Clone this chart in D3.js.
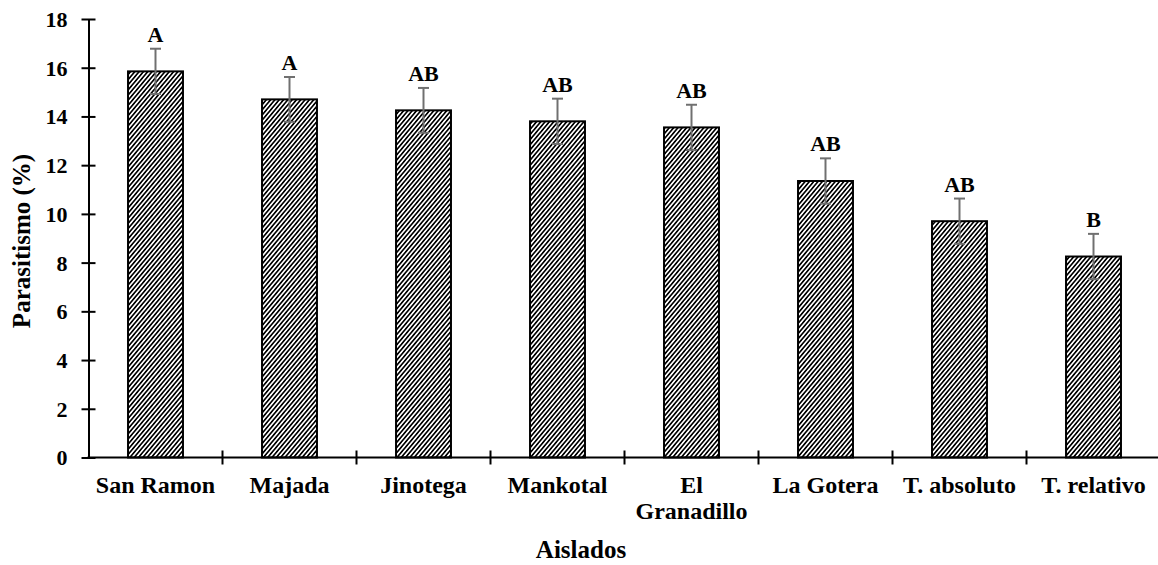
<!DOCTYPE html>
<html>
<head>
<meta charset="utf-8">
<script src="https://cdn.jsdelivr.net/npm/d3@7"></script>
<style>
  html, body { margin: 0; padding: 0; background: #fff; }
  svg { display: block; }
  svg text { font-family: "Liberation Serif", "Times New Roman", Times, serif; font-weight: bold; fill: #000; }
</style>
</head>
<body>
<svg id="chart" width="1158" height="565"></svg>
<script>
// Parasitism by isolate: mean, standard error and significance group
const categories = [["San Ramon"], ["Majada"], ["Jinotega"], ["Mankotal"], ["El", "Granadillo"], ["La Gotera"], ["T. absoluto"], ["T. relativo"]];
const means = [15.85, 14.7, 14.25, 13.8, 13.55, 11.35, 9.7, 8.25];
const errors = [0.93, 0.92, 0.92, 0.93, 0.93, 0.93, 0.93, 0.93];
const groups = ["A", "A", "AB", "AB", "AB", "AB", "AB", "B"];
const yTicks = [0, 2, 4, 6, 8, 10, 12, 14, 16, 18];

const FONT = '"Liberation Serif", "Times New Roman", Times, serif';
const svg = d3.select("#chart");
const x0 = 88.5, bandW = 134;
const y = d3.scaleLinear().domain([0, 18]).range([457.5, 19]);
const keys = categories.map((c, i) => i);
const x = d3.scaleBand().domain(keys).range([x0, x0 + bandW * categories.length]).paddingInner(0).paddingOuter(0);
const barW = x.bandwidth() * 0.41;

// Diagonal hatch fill
const defs = svg.append("defs");
const pat = defs.append("pattern")
  .attr("id", "hatch").attr("patternUnits", "userSpaceOnUse")
  .attr("width", 3.3).attr("height", 3.3)
  .attr("patternTransform", "rotate(40)");
pat.append("rect").attr("width", 3.3).attr("height", 3.3).attr("fill", "#fff");
pat.append("line").attr("x1", 0).attr("y1", 0).attr("x2", 0).attr("y2", 3.3)
  .attr("stroke", "#000").attr("stroke-width", 3.3);

// Bars
svg.append("g").selectAll("rect").data(means).join("rect")
  .attr("x", (d, i) => x(i) + x.bandwidth() / 2 - barW / 2)
  .attr("y", d => y(d))
  .attr("width", barW)
  .attr("height", d => y(0) - y(d))
  .attr("fill", "url(#hatch)")
  .attr("stroke", "#000").attr("stroke-width", 2);

// Error bars
const eg = svg.append("g").attr("stroke", "#707070").attr("stroke-width", 2).attr("fill", "none");
means.forEach((m, i) => {
  const cx = x(i) + x.bandwidth() / 2;
  const top = y(m + errors[i]), bot = y(m - errors[i]);
  eg.append("line").attr("x1", cx).attr("x2", cx).attr("y1", top).attr("y2", bot);
  eg.append("line").attr("x1", cx - 5.5).attr("x2", cx + 5.5).attr("y1", top).attr("y2", top);
  eg.append("line").attr("x1", cx - 5.5).attr("x2", cx + 5.5).attr("y1", bot).attr("y2", bot);
});

// Group letters
svg.append("g").selectAll("text").data(groups).join("text")
  .attr("x", (d, i) => x(i) + x.bandwidth() / 2)
  .attr("y", (d, i) => y(means[i] + errors[i]) - 7)
  .attr("text-anchor", "middle")
  .style("font-family", FONT)
  .style("font-size", "22px")
  .text(d => d);

// Y axis
const yAxis = svg.append("g").attr("transform", `translate(${x0},0)`)
  .call(d3.axisLeft(y).tickValues(yTicks).tickSizeInner(7).tickSizeOuter(0).tickPadding(14).tickFormat(d3.format("d")))
  .attr("font-family", FONT);
yAxis.select(".domain").attr("stroke", "#000").attr("stroke-width", 2);
yAxis.selectAll(".tick line").attr("x2", 7).attr("x1", -7).attr("stroke", "#000").attr("stroke-width", 2);
yAxis.selectAll(".tick text").style("font-family", FONT).style("font-size", "22px").attr("dy", "0.34em");

// X axis with ticks on band boundaries
const xg = svg.append("g");
xg.append("line").attr("x1", x0 - 1).attr("x2", 1158).attr("y1", y(0)).attr("y2", y(0))
  .attr("stroke", "#000").attr("stroke-width", 2);
xg.selectAll("line.tk").data(keys.slice(1)).join("line").attr("class", "tk")
  .attr("x1", d => x(d)).attr("x2", d => x(d))
  .attr("y1", y(0) - 7).attr("y2", y(0) + 7)
  .attr("stroke", "#000").attr("stroke-width", 2);

// Category labels
const lab = svg.append("g").selectAll("text").data(categories).join("text")
  .attr("text-anchor", "middle")
  .style("font-family", FONT)
  .style("font-size", "24px");
lab.each(function (lines, i) {
  const t = d3.select(this);
  lines.forEach((ln, j) => {
    t.append("tspan").attr("x", x(i) + x.bandwidth() / 2).attr("y", 493 + j * 26).text(ln);
  });
});

// Axis titles
svg.append("text").attr("x", 581).attr("y", 558).attr("text-anchor", "middle")
  .style("font-family", FONT).style("font-size", "25px").text("Aislados");
svg.append("text").attr("transform", "translate(30,241) rotate(-90)").attr("text-anchor", "middle")
  .style("font-family", FONT).style("font-size", "25px").text("Parasitismo (%)");
</script>
</body>
</html>
